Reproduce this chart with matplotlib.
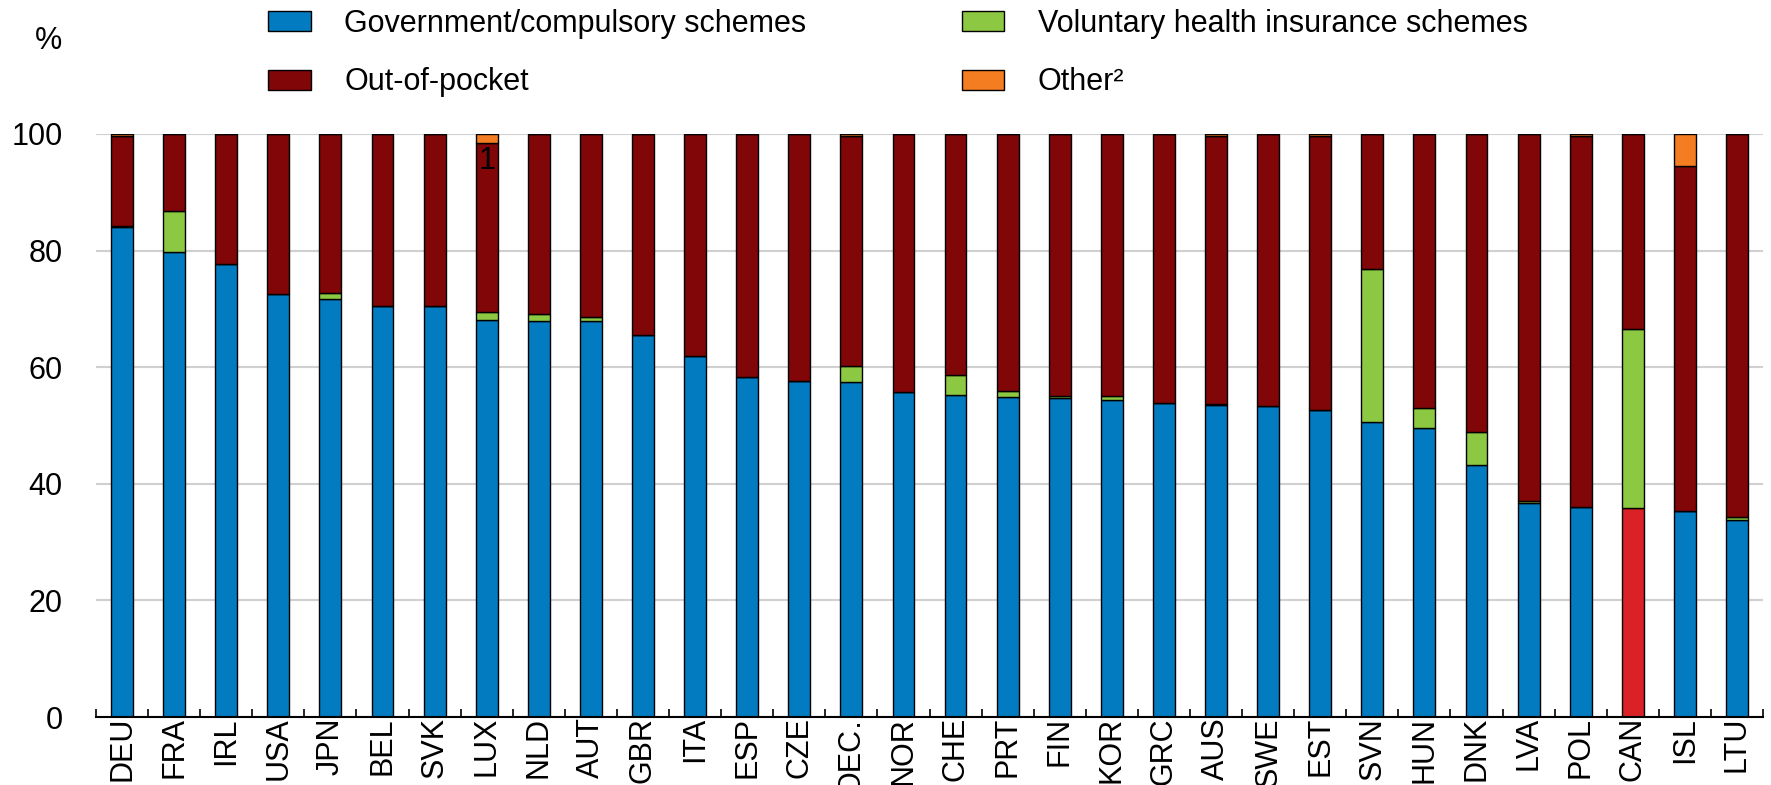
import numpy as np
import matplotlib.pyplot as plt
import matplotlib.transforms as mtransforms

plt.rcParams['font.family'] = ['Liberation Sans', 'DejaVu Sans']

# countries and shares of spending (%)
countries = ['DEU', 'FRA', 'IRL', 'USA', 'JPN', 'BEL', 'SVK', 'LUX', 'NLD', 'AUT',
             'GBR', 'ITA', 'ESP', 'CZE', 'OEC…', 'NOR', 'CHE', 'PRT', 'FIN', 'KOR',
             'GRC', 'AUS', 'SWE', 'EST', 'SVN', 'HUN', 'DNK', 'LVA', 'POL', 'CAN',
             'ISL', 'LTU']
gov = [84.0, 79.8, 77.7, 72.6, 71.7, 70.5, 70.5, 68.1, 68.0, 67.9,
       65.5, 62.0, 58.4, 57.7, 57.5, 55.7, 55.2, 54.9, 54.7, 54.3,
       53.8, 53.5, 53.3, 52.7, 50.6, 49.6, 43.2, 36.7, 36.0, 35.8,
       35.3, 33.8]
vhi = [0.3, 7.0, 0.0, 0.0, 1.0, 0.0, 0.0, 1.3, 1.1, 0.7,
       0.0, 0.0, 0.0, 0.0, 2.7, 0.0, 3.5, 1.0, 0.4, 0.8,
       0.0, 0.2, 0.0, 0.0, 26.2, 3.4, 5.7, 0.3, 0.0, 30.7,
       0.0, 0.5]
oop = [15.4, 13.2, 22.3, 27.4, 27.3, 29.5, 29.5, 29.0, 30.9, 31.4,
       34.5, 38.0, 41.6, 42.3, 39.4, 44.3, 41.3, 44.1, 44.9, 44.9,
       46.2, 46.0, 46.7, 47.0, 23.2, 47.0, 51.1, 63.0, 63.7, 33.5,
       59.2, 65.7]
other = [0.3, 0.0, 0.0, 0.0, 0.0, 0.0, 0.0, 1.6, 0.0, 0.0,
         0.0, 0.0, 0.0, 0.0, 0.4, 0.0, 0.0, 0.0, 0.0, 0.0,
         0.0, 0.3, 0.0, 0.3, 0.0, 0.0, 0.0, 0.0, 0.3, 0.0,
         5.5, 0.0]

c_gov = '#037BC1'
c_vhi = '#8CC841'
c_oop = '#800607'
c_oth = '#F47D21'
c_can = '#DA2128'

fs = 22
fig = plt.figure(figsize=(17.71, 7.85), dpi=100)
ax = fig.add_axes([0.0542, 0.0866, 0.9413, 0.7427])

x = np.arange(len(countries))
w = 0.42
gov = np.array(gov)
vhi = np.array(vhi)
oop = np.array(oop)
other = np.array(other)

# CAN highlighted in red
gov_cols = [c_can if c == 'CAN' else c_gov for c in countries]
kw = dict(width=w, edgecolor='black', linewidth=1.0, zorder=3)
b1 = ax.bar(x, gov, color=gov_cols, **kw)
b2 = ax.bar(x, vhi, bottom=gov, color=c_vhi, **kw)
b3 = ax.bar(x, oop, bottom=gov + vhi, color=c_oop, **kw)
b4 = ax.bar(x, other, bottom=gov + vhi + oop, color=c_oth, **kw)

# note marker inside LUX bar
ax.text(countries.index('LUX'), 95.3, '1', ha='center', va='center',
        fontsize=fs, color='black', zorder=4)

ax.set_xlim(-0.5, len(countries) - 0.5)
ax.set_ylim(0, 100)
ax.set_yticks([0, 20, 40, 60, 80, 100])
ax.yaxis.grid(True, color='#d0d0d0', linewidth=1.5, zorder=0)
ax.set_axisbelow(True)

ax.set_xticks(x)
ax.set_xticklabels(countries, rotation=90, va='top', fontsize=fs)
ax.set_xticks(np.arange(-0.5, len(countries), 1.0), minor=True)
ax.tick_params(axis='x', which='major', length=0, pad=0)
ax.tick_params(axis='x', which='minor', direction='in', length=6, width=1.2, color='black')
ax.tick_params(axis='y', length=0, labelsize=fs, pad=24)

# the truncated OECD label sits a bit higher, its dots run over the axis
lab = ax.get_xticklabels()[countries.index('OEC…')]
lab.set_transform(lab.get_transform() + mtransforms.ScaledTranslation(0, 14 / 72, fig.dpi_scale_trans))
lab.set_zorder(6)

for s in ['top', 'right', 'left']:
    ax.spines[s].set_visible(False)
ax.spines['bottom'].set_linewidth(1.5)
ax.spines['bottom'].set_zorder(5)

fig.text(49 / 1771, 1 - 41 / 785, '%', ha='center', va='center', fontsize=fs)

h0 = plt.Rectangle((0, 0), 1, 1, facecolor=c_gov, edgecolor='black', linewidth=1.0)
handles = [h0, b3[0], b2[0], b4[0]]
labels = ['Government/compulsory schemes', 'Out-of-pocket',
          'Voluntary health insurance schemes', 'Other²']
fig.legend(handles, labels, ncol=2, loc='upper left', bbox_to_anchor=(0.136, 1.0235),
           frameon=False, fontsize=fs, handlelength=1.38, handleheight=0.62,
           handletextpad=1.1, labelspacing=0.93, columnspacing=5.1)

fig.savefig('out.png', dpi=100)
